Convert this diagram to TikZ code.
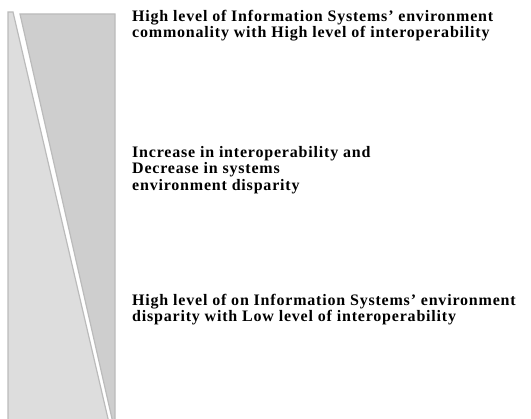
\documentclass[tikz,border=0pt]{standalone}
\usepackage{fontspec}
\setmainfont{Liberation Serif}
\newfontfamily\lvlfont[LetterSpace=5,Ligatures=TeX]{Liberation Serif}
\usetikzlibrary{positioning}

\definecolor{lightwedge}{HTML}{DDDDDD}
\definecolor{darkwedge}{HTML}{CECECE}
\definecolor{wedgeline}{HTML}{BBBBBB}

\begin{document}
\begin{tikzpicture}[
    x=1pt, y=-1pt,
    wedge/.style = {draw=wedgeline, line width=1.2pt, line join=miter},
    lw/.style = {wedge, fill=lightwedge},
    dw/.style = {wedge, fill=darkwedge},
    lbl/.style = {anchor=north west, inner sep=0pt, align=left,
                  font=\lvlfont\fontsize{16}{16.5}\selectfont\bfseries}
    ]
    \useasboundingbox (0,0) rectangle (531,419);
    % the two wedges
    \path[lw] (8,12) -- (13,12) -- (109,423) -- (8,423) -- cycle;
    \path[dw] (20,14) -- (115,14) -- (115,423) -- (113,423) -- cycle;
    % the three levels
    \node[lbl] (top) at (132,10) {High level of Information Systems’ environment\\commonality with High level of interoperability};
    \node[lbl] (mid) at (132,146) {Increase in interoperability and\\Decrease in systems\\environment disparity};
    \node[lbl] (bot) at (132,294) {High level of on Information Systems’ environment\\disparity with Low level of interoperability};
  \end{tikzpicture}
\end{document}
